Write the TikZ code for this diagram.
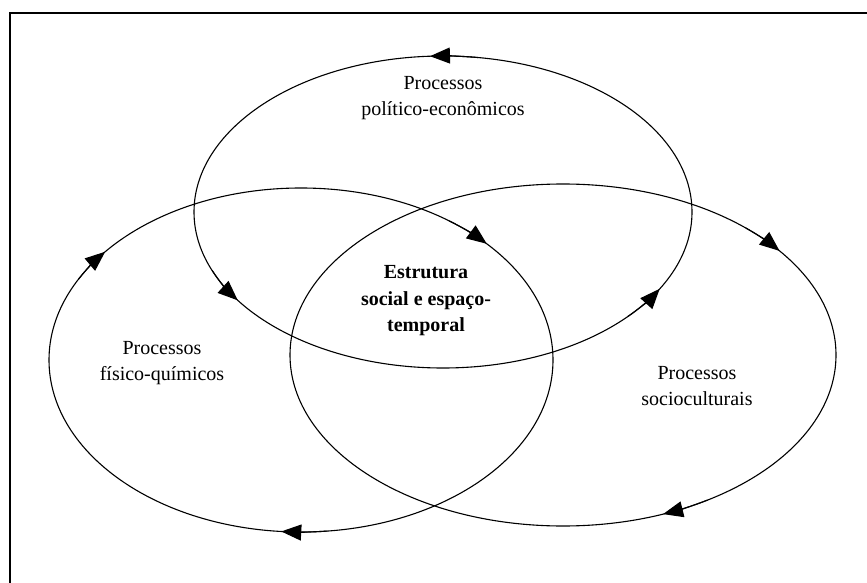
\documentclass[tikz,border=0pt]{standalone}
\usepackage{fontspec}
\setmainfont{Liberation Serif}
\usetikzlibrary{arrows.meta,calc}
\tikzset{
  ring/.style={draw=black, line width=1.1pt},
  arr/.style={line width=1.1pt, -{Triangle[length=20pt,width=16pt]}},
  frame/.style={draw=black, line width=2.7pt, line join=miter},
  label/.style={align=center, inner sep=0pt, font=\fontsize{20}{26}\selectfont},
  core/.style={label, font=\fontsize{20}{26.5}\selectfont\bfseries}
}
% #1,#2 centre; #3,#4 radii; #5 start angle; #6 end angle (tip)
\newcommand\ellarrow[6]{\draw[arr] ($(#1,#2)+(#5:#3pt and #4pt)$) arc[start angle=#5,end angle=#6,x radius=#3pt,y radius=#4pt];}
\begin{document}
\begin{tikzpicture}[x=1pt,y=1pt]
\useasboundingbox (0,0) rectangle (867,582);
\clip (0,0) rectangle (867,582);
\fill[white] (0,0) rectangle (867,582);
% frame
\draw[frame] (10,-5) -- (10,569) -- (880,569);
% ellipses
\draw[ring] (443,370) ellipse [x radius=249pt, y radius=156pt];
\draw[ring] (301,222) ellipse [x radius=252pt, y radius=172pt];
\draw[ring] (563,227) ellipse [x radius=273pt, y radius=171pt];
% arrows: top ellipse (counter-clockwise)
\ellarrow{443}{370}{249}{156}{82}{93}
\ellarrow{443}{370}{249}{156}{202}{214.5}
\ellarrow{443}{370}{249}{156}{318}{330.5}
% left ellipse (clockwise)
\ellarrow{301}{222}{252}{172}{152}{141}
\ellarrow{301}{222}{252}{172}{54}{42.5}
\ellarrow{301}{222}{252}{172}{276}{265.5}
% right ellipse (clockwise)
\ellarrow{563}{227}{273}{171}{48}{37.5}
\ellarrow{563}{227}{273}{171}{302}{291.5}
% labels
\node[label] (pe) at (443,484) {Processos\\político-econômicos};
\node[label] (fq) at (162,219) {Processos\\físico-químicos};
\node[label] (sc) at (697,196) {Processos\\socioculturais};
\node[core] (es) at (426,281) {Estrutura\\social e espaço-\\temporal};
\end{tikzpicture}
\end{document}
